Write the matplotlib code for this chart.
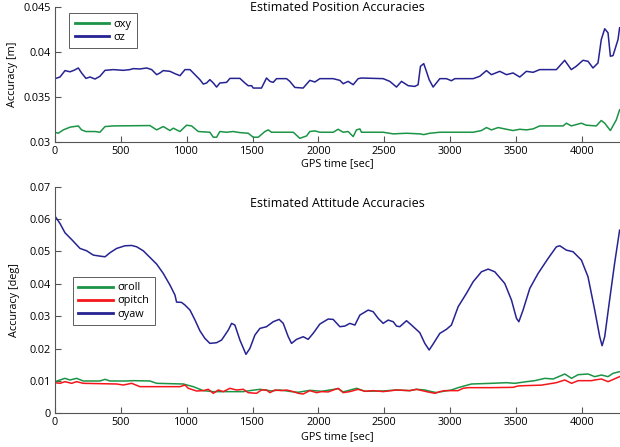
import matplotlib
matplotlib.use("Agg")
import matplotlib.pyplot as plt

plt.rcParams["font.family"] = ["Open Sans", "DejaVu Sans"]

# --- position accuracies (GPS time [s], accuracy [m]) ---
t_z = [0, 38, 76, 114, 144, 177, 202, 235, 266, 304, 341, 380, 443, 519, 569,
       594, 645, 696, 734, 772, 797, 822, 873, 911, 949, 987, 1025, 1050, 1100,
       1126, 1151, 1176, 1202, 1227, 1252, 1303, 1328, 1404, 1442, 1467, 1493,
       1505, 1568, 1606, 1632, 1657, 1682, 1758, 1783, 1821, 1884, 1935, 1973,
       2011, 2112, 2163, 2188, 2226, 2264, 2302, 2327, 2492, 2542, 2593, 2631,
       2682, 2732, 2757, 2775, 2800, 2820, 2841, 2871, 2922, 2972, 3010, 3036,
       3175, 3225, 3276, 3314, 3377, 3428, 3478, 3529, 3579, 3630, 3680, 3807,
       3870, 3920, 3958, 4009, 4047, 4085, 4123, 4148, 4174, 4199, 4217, 4237,
       4275, 4287]
sigma_z = [0.03704, 0.03722, 0.03793, 0.0378, 0.03796, 0.03822, 0.03767, 0.03707,
           0.03722, 0.037, 0.0373, 0.03796, 0.03804, 0.03796, 0.03804, 0.03815,
           0.03811, 0.03822, 0.03804, 0.03748, 0.03767, 0.03793, 0.03785, 0.03759,
           0.03737, 0.03804, 0.03804, 0.03767, 0.03693, 0.03644, 0.03656, 0.03693,
           0.03656, 0.03611, 0.03656, 0.03663, 0.03707, 0.03707, 0.03656, 0.03626,
           0.03626, 0.036, 0.036, 0.03711, 0.03674, 0.03663, 0.03704, 0.03704,
           0.03674, 0.03607, 0.036, 0.03685, 0.03667, 0.03704, 0.03704, 0.03685,
           0.03648, 0.03674, 0.03637, 0.03704, 0.03711, 0.03704, 0.03674, 0.03611,
           0.03674, 0.03626, 0.03618, 0.03637, 0.03841, 0.0387, 0.03785, 0.03693,
           0.03611, 0.03704, 0.03704, 0.03681, 0.03704, 0.03704, 0.0373, 0.03793,
           0.03748, 0.03785, 0.03748, 0.03767, 0.03722, 0.03785, 0.03774, 0.03804,
           0.03804, 0.03907, 0.03804, 0.03841, 0.03907, 0.03896, 0.03822, 0.03878,
           0.04137, 0.04256, 0.04211, 0.03952, 0.03959, 0.04137, 0.04267]

t_xy = [0, 25, 63, 114, 177, 202, 235, 304, 341, 380, 443, 721, 772, 822, 873,
        898, 949, 999, 1037, 1088, 1176, 1202, 1227, 1252, 1303, 1353, 1404,
        1467, 1505, 1543, 1594, 1619, 1644, 1809, 1859, 1910, 1935, 1973, 2011,
        2112, 2150, 2188, 2226, 2264, 2289, 2315, 2327, 2492, 2568, 2669, 2770,
        2800, 2846, 2922, 3175, 3238, 3276, 3314, 3365, 3428, 3478, 3529, 3579,
        3630, 3680, 3858, 3883, 3920, 3996, 4034, 4110, 4148, 4174, 4217, 4262,
        4287]
sigma_xy = [0.03111, 0.031, 0.03137, 0.03167, 0.03181, 0.03137, 0.03119, 0.03119,
            0.03111, 0.03174, 0.03181, 0.03185, 0.03137, 0.03174, 0.0313, 0.03156,
            0.03119, 0.03189, 0.03181, 0.03119, 0.03111, 0.03056, 0.03056, 0.03119,
            0.03111, 0.03119, 0.03107, 0.031, 0.03056, 0.03056, 0.03119, 0.03137,
            0.03111, 0.03111, 0.03044, 0.0307, 0.03119, 0.03126, 0.03111, 0.03111,
            0.03144, 0.03111, 0.03119, 0.03063, 0.03137, 0.03148, 0.03111, 0.03111,
            0.03093, 0.031, 0.03093, 0.03085, 0.031, 0.03111, 0.03111, 0.0313,
            0.03163, 0.03137, 0.03163, 0.03144, 0.0313, 0.03144, 0.03137, 0.03148,
            0.03181, 0.03181, 0.03211, 0.03181, 0.03211, 0.03189, 0.03181, 0.03241,
            0.03211, 0.0313, 0.03248, 0.03359]

# --- attitude accuracies (GPS time [s], accuracy [deg]) ---
t_yaw = [0, 38, 76, 126, 190, 240, 291, 341, 380, 417, 468, 531, 582, 620, 670,
         721, 772, 822, 873, 911, 923, 961, 987, 1025, 1063, 1100, 1138, 1176,
         1227, 1265, 1316, 1341, 1366, 1404, 1450, 1480, 1518, 1556, 1606, 1657,
         1702, 1733, 1771, 1796, 1834, 1885, 1922, 1960, 2011, 2074, 2112, 2163,
         2201, 2239, 2277, 2315, 2378, 2416, 2454, 2492, 2530, 2568, 2593, 2618,
         2669, 2707, 2770, 2808, 2841, 2871, 2922, 2972, 3010, 3061, 3124, 3175,
         3238, 3289, 3339, 3415, 3466, 3504, 3522, 3554, 3605, 3668, 3744, 3807,
         3833, 3883, 3934, 3997, 4047, 4098, 4136, 4154, 4174, 4211, 4249, 4287]
sigma_yaw = [0.0609, 0.05864, 0.05576, 0.0537, 0.05093, 0.05021, 0.04887, 0.04856,
             0.04835, 0.04959, 0.05093, 0.05175, 0.05185, 0.05144, 0.05021, 0.04815,
             0.04609, 0.04321, 0.03961, 0.03652, 0.03436, 0.03426, 0.03344, 0.03189,
             0.02881, 0.02551, 0.02315, 0.0216, 0.02181, 0.02263, 0.02572, 0.02778,
             0.02726, 0.02263, 0.01821, 0.02006, 0.02418, 0.02623, 0.02675, 0.02829,
             0.02901, 0.02778, 0.02366, 0.0216, 0.02284, 0.02366, 0.02284, 0.02469,
             0.02757, 0.02912, 0.02901, 0.02675, 0.02695, 0.02778, 0.02726, 0.03035,
             0.03189, 0.03138, 0.02932, 0.02778, 0.0288, 0.02829, 0.02695, 0.02675,
             0.0286, 0.02726, 0.0249, 0.0216, 0.01955, 0.0214, 0.02469, 0.02593,
             0.02726, 0.03292, 0.03704, 0.04064, 0.04372, 0.04455, 0.04372, 0.04012,
             0.03498, 0.02932, 0.02829, 0.03189, 0.03858, 0.04321, 0.04784, 0.05144,
             0.05175, 0.05041, 0.0499, 0.04733, 0.04218, 0.03189, 0.02366, 0.02088,
             0.02366, 0.03498, 0.0463, 0.05658]

t_roll = [0, 38, 76, 114, 164, 215, 341, 380, 417, 544, 595, 721, 772, 974, 1050,
          1126, 1202, 1353, 1429, 1480, 1556, 1644, 1708, 1796, 1847, 1935, 2024,
          2150, 2188, 2290, 2353, 2492, 2593, 2694, 2745, 2808, 2859, 2897, 2935,
          3010, 3061, 3162, 3314, 3428, 3491, 3580, 3643, 3719, 3782, 3871, 3922,
          3972, 4048, 4098, 4149, 4199, 4237, 4287]
sigma_roll = [0.00977, 0.01029, 0.0108, 0.01029, 0.0108, 0.00998, 0.00998, 0.01049,
              0.00998, 0.00998, 0.01008, 0.00998, 0.00926, 0.00905, 0.00823, 0.007,
              0.00669, 0.00669, 0.00669, 0.007, 0.00741, 0.0069, 0.0072, 0.00669,
              0.0065, 0.0071, 0.0068, 0.0076, 0.0066, 0.00772, 0.0068, 0.0069,
              0.0072, 0.007, 0.00741, 0.0072, 0.00669, 0.0064, 0.00669, 0.0072,
              0.00792, 0.00905, 0.00926, 0.00946, 0.00926, 0.00977, 0.01008, 0.0108,
              0.0106, 0.01214, 0.0108, 0.01193, 0.01214, 0.01132, 0.01183, 0.01132,
              0.01235, 0.01286]

t_pitch = [0, 38, 76, 126, 164, 215, 468, 519, 582, 645, 949, 987, 1012, 1075,
           1126, 1164, 1202, 1240, 1278, 1328, 1379, 1430, 1467, 1530, 1568, 1606,
           1632, 1670, 1720, 1758, 1809, 1847, 1885, 1935, 1986, 2024, 2074, 2150,
           2188, 2239, 2302, 2353, 2416, 2492, 2593, 2694, 2745, 2821, 2884, 2922,
           2960, 3061, 3099, 3137, 3314, 3478, 3516, 3567, 3693, 3807, 3871, 3922,
           3972, 4073, 4098, 4149, 4199, 4224, 4287]
sigma_pitch = [0.00946, 0.00926, 0.00977, 0.00926, 0.00977, 0.00926, 0.00905,
               0.00874, 0.00926, 0.00823, 0.00823, 0.00874, 0.00772, 0.00689,
               0.007, 0.00741, 0.00617, 0.0072, 0.00669, 0.00772, 0.0072, 0.00741,
               0.00638, 0.00617, 0.0072, 0.0072, 0.00638, 0.0072, 0.007, 0.0072,
               0.00669, 0.00617, 0.00597, 0.007, 0.00638, 0.0067, 0.0066, 0.00772,
               0.00638, 0.0067, 0.00741, 0.0068, 0.007, 0.0067, 0.0072, 0.007,
               0.00741, 0.00669, 0.00617, 0.0067, 0.007, 0.007, 0.00772, 0.00792,
               0.00792, 0.00802, 0.00844, 0.00854, 0.0087, 0.00946, 0.01029, 0.00926,
               0.01008, 0.01008, 0.01029, 0.0106, 0.00977, 0.0102, 0.01132]

GREEN = "#1b9446"
BLUE = "#262392"
RED = "#f5161b"
AXIS_GREY = "#555555"
XMAX = 4290


def style_axes(ax, ylim, yticks, yticklabels):
    ax.set_xlim(0, XMAX)
    ax.set_ylim(*ylim)
    ax.set_xticks(range(0, 4001, 500))
    ax.set_yticks(yticks)
    ax.set_yticklabels(yticklabels)
    for side in ("top", "right"):
        ax.spines[side].set_visible(False)
    for side in ("left", "bottom"):
        ax.spines[side].set_color(AXIS_GREY)
        ax.spines[side].set_linewidth(0.8)
    ax.tick_params(direction="in", length=4, width=0.8, color=AXIS_GREY,
                   labelsize=7.8, pad=3)


def add_legend(ax, anchor):
    leg = ax.legend(loc="upper left", bbox_to_anchor=anchor, borderaxespad=0,
                    fontsize=7.8, fancybox=False, handlelength=3.2,
                    labelspacing=0.2, borderpad=0.5, handletextpad=0.4)
    leg.get_frame().set_edgecolor("#333333")
    leg.get_frame().set_linewidth(0.7)
    for line in leg.get_lines():
        line.set_linewidth(2)


fig = plt.figure(figsize=(6.2, 4.47), dpi=100)
ax_pos = fig.add_axes([0.0887, 0.6817, 0.9113, 0.3033])
ax_att = fig.add_axes([0.0887, 0.0754, 0.9113, 0.5069])

# position
ax_pos.plot(t_xy, sigma_xy, color=GREEN, lw=1.1, label="σxy")
ax_pos.plot(t_z, sigma_z, color=BLUE, lw=1.1, label="σz")
style_axes(ax_pos, (0.03, 0.045), [0.03, 0.035, 0.04, 0.045],
           ["0.03", "0.035", "0.04", "0.045"])
ax_pos.text(0.5, 0.993, "Estimated Position Accuracies", transform=ax_pos.transAxes,
            ha="center", va="center", fontsize=9)
ax_pos.set_xlabel("GPS time [sec]", fontsize=7.8)
ax_pos.set_ylabel("Accuracy [m]", fontsize=7.8)
ax_pos.xaxis.set_label_coords(0.5, -0.155)
ax_pos.xaxis.label.set_va("center")
ax_pos.yaxis.set_label_coords(-0.076, 0.5)
ax_pos.yaxis.label.set_va("center")
add_legend(ax_pos, (0.025, 0.95))

# attitude
ax_att.plot(t_roll, sigma_roll, color=GREEN, lw=1.1, label="σroll")
ax_att.plot(t_pitch, sigma_pitch, color=RED, lw=1.1, label="σpitch")
ax_att.plot(t_yaw, sigma_yaw, color=BLUE, lw=1.1, label="σyaw")
style_axes(ax_att, (0, 0.07), [0, 0.01, 0.02, 0.03, 0.04, 0.05, 0.06, 0.07],
           ["0", "0.01", "0.02", "0.03", "0.04", "0.05", "0.06", "0.07"])
ax_att.text(0.5, 0.928, "Estimated Attitude Accuracies", transform=ax_att.transAxes,
            ha="center", va="center", fontsize=9)
ax_att.set_xlabel("GPS time [sec]", fontsize=7.8)
ax_att.set_ylabel("Accuracy [deg]", fontsize=7.8)
ax_att.xaxis.set_label_coords(0.5, -0.105)
ax_att.xaxis.label.set_va("center")
ax_att.yaxis.set_label_coords(-0.071, 0.5)
ax_att.yaxis.label.set_va("center")
add_legend(ax_att, (0.032, 0.602))

fig.savefig("out.png", dpi=100, facecolor="white")
